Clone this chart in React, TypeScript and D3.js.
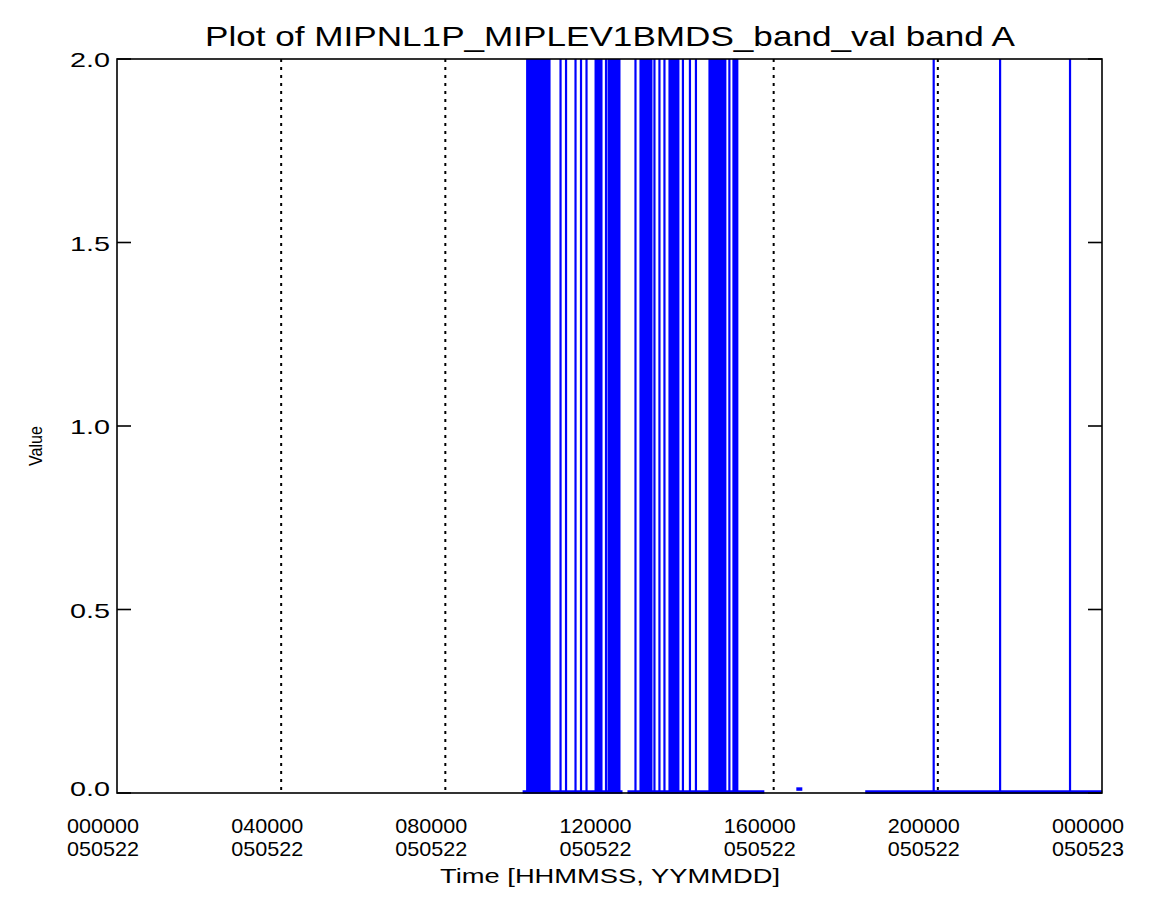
import React from "react";
import * as d3 from "d3";

const titleText = "Plot of MIPNL1P_MIPLEV1BMDS_band_val band A";
const xAxisTitle = "Time [HHMMSS, YYMMDD]";
const yAxisTitle = "Value";

const hourTicks = [0, 4, 8, 12, 16, 20, 24];
const timeLabels = ["000000", "040000", "080000", "120000", "160000", "200000", "000000"];
const dateLabels = ["050522", "050522", "050522", "050522", "050522", "050522", "050523"];
const gridHours = [4, 8, 12, 16, 20];
const yTicks = [0, 0.5, 1.0, 1.5, 2.0];
const yTickLabels = ["0.0", "0.5", "1.0", "1.5", "2.0"];

// dense oscillation bands (value toggling 0 <-> 2), [startHour, endHour]
const denseBands: [number, number][] = [
  [9.968, 10.564],
  [11.635, 11.83],
  [11.951, 12.268],
  [12.73, 13.047],
  [13.436, 13.704],
  [14.41, 14.848],
  [14.994, 15.14],
];

// single spikes to value 2 (hour)
const spikeHours = [
  10.807, 10.941, 11.172, 11.306, 11.44, 11.915, 12.633, 13.095, 13.217, 13.339,
  13.789, 13.96, 14.106, 14.921, 19.899, 21.517, 23.221,
];
const spikeValue = 2.0;

// stretches of data lying at (near) zero: [startHour, endHour, value]
const baselineSegments: [number, number, number][] = [
  [9.883, 12.317, 0],
  [12.438, 15.773, 0],
  [16.552, 16.698, 0.008],
  [18.231, 24.0, 0],
];

const W = 1160;
const H = 907;
const left = 117;
const right = 1102;
const top = 59;
const bottom = 793;

export default function App() {
  const x = d3.scaleLinear().domain([0, 24]).range([left, right]);
  const y = d3.scaleLinear().domain([0, 2]).range([bottom, top]);
  const blue = "#0000ff";
  const font = "'Liberation Sans', Arial, sans-serif";
  const line = d3
    .line<[number, number]>()
    .x((d) => x(d[0]))
    .y((d) => y(d[1]));

  return (
    <svg
      width={W}
      height={H}
      style={{ position: "absolute", left: 0, top: 0, background: "#fff" }}
      fontFamily={font}
    >
      <rect x={0} y={0} width={W} height={H} fill="#fff" />
      {/* grid lines */}
      {gridHours.map((h, i) => (
        <line
          key={"g" + i}
          x1={x(h)}
          x2={x(h)}
          y1={top}
          y2={bottom}
          stroke="#000"
          strokeWidth={2}
          strokeDasharray="3,5"
        />
      ))}
      {/* data */}
      <g>
        {baselineSegments.map((s, i) => (
          <path
            key={"b" + i}
            d={line([
              [s[0], s[2]],
              [s[1], s[2]],
            ])!}
            stroke={blue}
            strokeWidth={3.5}
            fill="none"
            transform="translate(0,-1)"
          />
        ))}
        {denseBands.map((b, i) => (
          <rect
            key={"d" + i}
            x={x(b[0])}
            width={x(b[1]) - x(b[0])}
            y={y(spikeValue)}
            height={y(0) - y(spikeValue)}
            fill={blue}
          />
        ))}
        {spikeHours.map((h, i) => (
          <path
            key={"s" + i}
            d={line([
              [h, 0],
              [h, spikeValue],
            ])!}
            stroke={blue}
            strokeWidth={2.2}
            fill="none"
          />
        ))}
      </g>
      {/* frame */}
      <rect
        x={left}
        y={top}
        width={right - left}
        height={bottom - top}
        fill="none"
        stroke="#000"
        strokeWidth={1.6}
      />
      {/* y ticks */}
      {yTicks.map((v, i) => (
        <g key={"yt" + i}>
          <line x1={left} x2={left + 14} y1={y(v)} y2={y(v)} stroke="#000" strokeWidth={1.6} />
          <line x1={right - 14} x2={right} y1={y(v)} y2={y(v)} stroke="#000" strokeWidth={1.6} />
          <text
            x={110}
            y={y(v) + 8 - (i === 0 ? 5 : 0)}
            textAnchor="end"
            fontSize={21}
            textLength={40}
            lengthAdjust="spacingAndGlyphs"
          >
            {yTickLabels[i]}
          </text>
        </g>
      ))}
      {/* x labels */}
      {hourTicks.map((h, i) => (
        <g key={"xt" + i}>
          <text
            x={x(h) - 14}
            y={833}
            textAnchor="middle"
            fontSize={21}
            textLength={72}
            lengthAdjust="spacingAndGlyphs"
          >
            {timeLabels[i]}
          </text>
          <text
            x={x(h) - 14}
            y={856}
            textAnchor="middle"
            fontSize={21}
            textLength={72}
            lengthAdjust="spacingAndGlyphs"
          >
            {dateLabels[i]}
          </text>
        </g>
      ))}
      <text
        x={610}
        y={883}
        textAnchor="middle"
        fontSize={20}
        textLength={340}
        lengthAdjust="spacingAndGlyphs"
      >
        {xAxisTitle}
      </text>
      <text
        transform="translate(42,446) rotate(-90)"
        textAnchor="middle"
        fontSize={19}
        textLength={40}
        lengthAdjust="spacingAndGlyphs"
      >
        {yAxisTitle}
      </text>
      <text
        x={610}
        y={46}
        textAnchor="middle"
        fontSize={28}
        textLength={810}
        lengthAdjust="spacingAndGlyphs"
      >
        {titleText}
      </text>
    </svg>
  );
}
